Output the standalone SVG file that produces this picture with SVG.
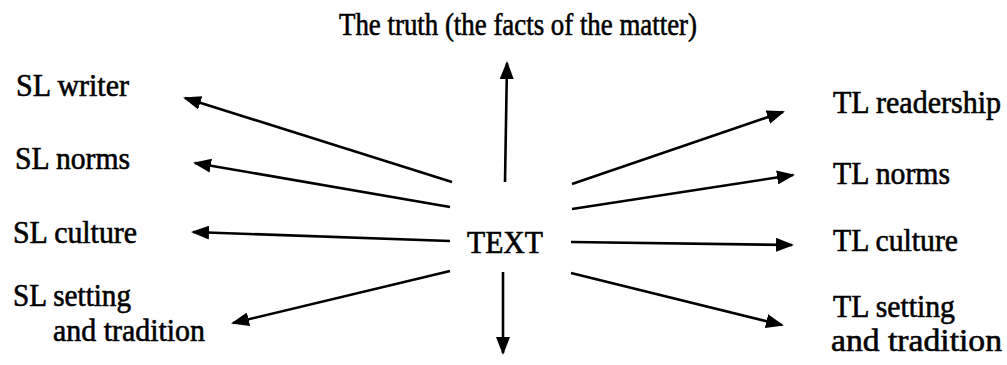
<svg xmlns="http://www.w3.org/2000/svg" width="1007" height="365" viewBox="0 0 1007 365">
  <style>
    text { font-family: "Liberation Serif", "Times New Roman", serif; font-size: 31px; fill: #000; stroke: #000; stroke-width: 0.6px; }
    .conn { stroke: #000; stroke-width: 2.6; fill: none; marker-end: url(#arrow); }
  </style>
  <defs>
    <marker id="arrow" markerUnits="userSpaceOnUse" markerWidth="18" markerHeight="14" refX="16" refY="7" orient="auto">
      <path d="M0,0 L18,7 L0,14 Z" fill="#000"/>
    </marker>
  </defs>
  <rect width="1007" height="365" fill="#fff"/>

  <g id="connectors">
    <line class="conn" x1="505" y1="182" x2="507" y2="63"/>
    <line class="conn" x1="503" y1="272" x2="503" y2="353"/>
    <line class="conn" x1="452" y1="182" x2="185" y2="98"/>
    <line class="conn" x1="450" y1="207" x2="195" y2="163"/>
    <line class="conn" x1="450" y1="241" x2="193" y2="232"/>
    <line class="conn" x1="450" y1="271" x2="233" y2="323"/>
    <line class="conn" x1="572" y1="184" x2="783" y2="112"/>
    <line class="conn" x1="572" y1="209" x2="793" y2="175"/>
    <line class="conn" x1="571" y1="242" x2="792" y2="245"/>
    <line class="conn" x1="571" y1="273" x2="782" y2="325"/>
  </g>

  <g id="node-truth"><text x="339" y="35" textLength="358" lengthAdjust="spacingAndGlyphs">The truth (the facts of the matter)</text></g>
  <g id="node-text"><text x="467" y="253" textLength="76" lengthAdjust="spacingAndGlyphs">TEXT</text></g>

  <g id="node-sl-writer"><text x="16" y="96" textLength="113" lengthAdjust="spacingAndGlyphs">SL writer</text></g>
  <g id="node-sl-norms"><text x="15" y="169" textLength="115" lengthAdjust="spacingAndGlyphs">SL norms</text></g>
  <g id="node-sl-culture"><text x="13" y="243" textLength="124" lengthAdjust="spacingAndGlyphs">SL culture</text></g>
  <g id="node-sl-setting">
    <text x="13" y="306" textLength="118" lengthAdjust="spacingAndGlyphs">SL setting</text>
    <text x="53" y="341" textLength="152" lengthAdjust="spacingAndGlyphs">and tradition</text>
  </g>

  <g id="node-tl-readership"><text x="833" y="113" textLength="168" lengthAdjust="spacingAndGlyphs">TL readership</text></g>
  <g id="node-tl-norms"><text x="833" y="184" textLength="117" lengthAdjust="spacingAndGlyphs">TL norms</text></g>
  <g id="node-tl-culture"><text x="833" y="251" textLength="125" lengthAdjust="spacingAndGlyphs">TL culture</text></g>
  <g id="node-tl-setting">
    <text x="833" y="317" textLength="122" lengthAdjust="spacingAndGlyphs">TL setting</text>
    <text x="831" y="351" textLength="171" lengthAdjust="spacingAndGlyphs">and tradition</text>
  </g>
</svg>
